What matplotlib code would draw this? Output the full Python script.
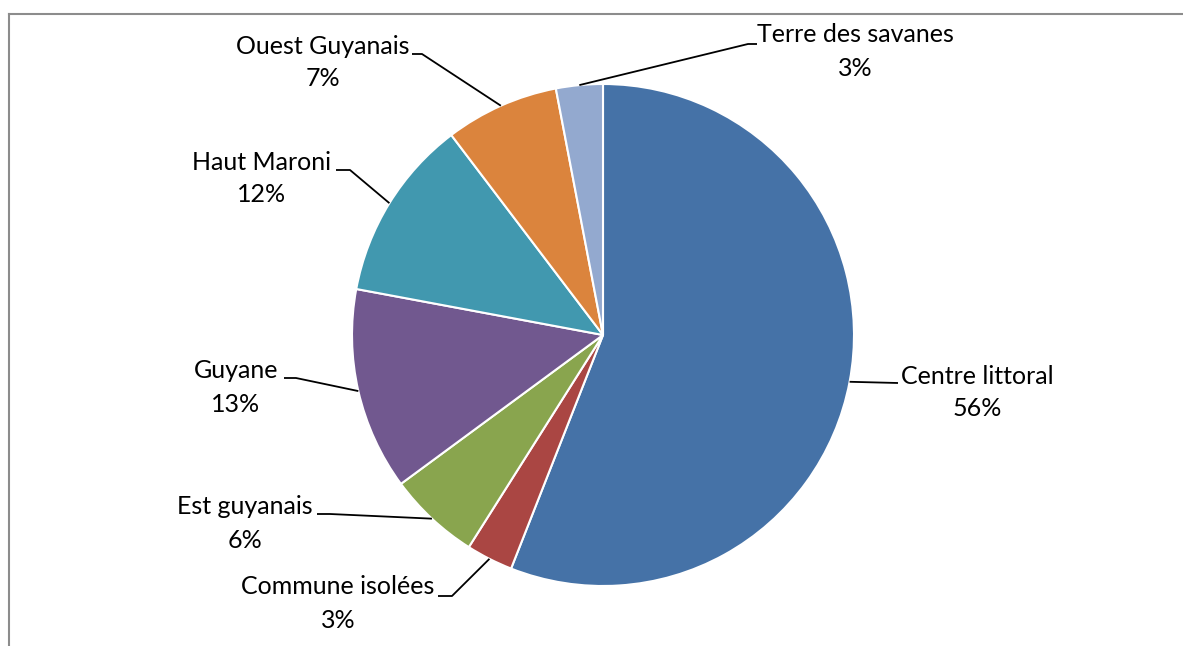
import numpy as np
import matplotlib
matplotlib.use("Agg")
import matplotlib.pyplot as plt
from matplotlib.lines import Line2D

categories = ["Centre littoral", "Commune isolées", "Est guyanais", "Guyane",
              "Haut Maroni", "Ouest Guyanais", "Terre des savanes"]
values = [55.8, 3.0, 5.9, 13.0, 11.7, 7.3, 3.0]
colors = ["#4572A7", "#AA4643", "#89A54E", "#71588F", "#4198AF", "#DB843D", "#93A9CF"]

W, H = 1183, 646
fig = plt.figure(figsize=(W / 100, H / 100), dpi=100)
ax = fig.add_axes([0, 0, 1, 1])

cx, cy, R = 603, H - 335, 251
wedges, _ = ax.pie(values, colors=colors, startangle=90, counterclock=False,
                   center=(cx, cy), radius=R, frame=True,
                   wedgeprops=dict(edgecolor="white", linewidth=1.5))
ax.set_xlim(0, W)
ax.set_ylim(0, H)
ax.set_aspect("equal")
ax.axis("off")

total = sum(values)
# label layout: (text center x, first-line y in px from top, leader start x, leader start y, horizontal end x)
layout = {
    "Centre littoral": (977, 376, 898, 383, 898),
    "Commune isolées": (338, 587, 438, 596, 452),
    "Est guyanais": (245, 507, 317, 514, 330),
    "Guyane": (236, 371, 284, 378, 296),
    "Haut Maroni": (262, 162, 336, 170, 350),
    "Ouest Guyanais": (323, 46, 412, 54, 422),
    "Terre des savanes": (855, 35, 757, 44, 748),
}
fam = ["Lato", "DejaVu Sans"]
fs = 18
for w, cat, v in zip(wedges, categories, values):
    tx, ty, lx, ly, hx = layout[cat]
    pct = f"{round(100 * v / total):d}%"
    ax.text(tx, H - ty, cat, ha="center", va="center", fontsize=fs, family=fam)
    ax.text(tx, H - ty - 33, pct, ha="center", va="center", fontsize=fs, family=fam)
    mid = np.deg2rad((w.theta1 + w.theta2) / 2)
    ex, ey = cx + R * np.cos(mid), cy + R * np.sin(mid)
    ax.plot([lx, hx, ex], [H - ly, H - ly, ey], color="black", lw=1.3,
            solid_capstyle="butt", zorder=5)

fig.add_artist(Line2D([9 / W, 1], [1 - 13.5 / H, 1 - 13.5 / H], color="#8c8c8c", lw=1.5))
fig.add_artist(Line2D([9 / W, 9 / W], [0, 1 - 13.5 / H], color="#8c8c8c", lw=1.5))

fig.savefig("out.png", dpi=100, facecolor="white")
